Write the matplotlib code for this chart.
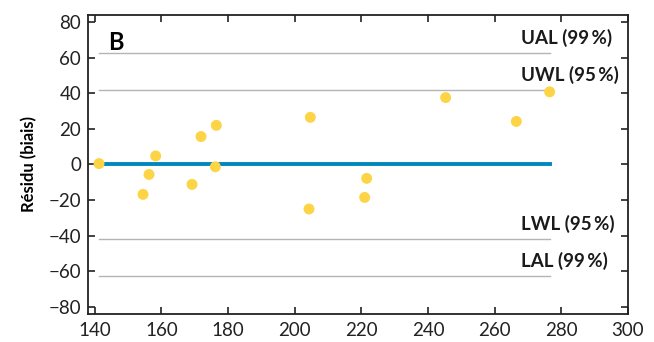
import matplotlib.pyplot as plt

plt.rcParams['font.family'] = ['Lato', 'DejaVu Sans']

# data
x_vals = [141.3, 154.5, 156.3, 158.3, 169.2, 171.9, 176.5, 176.2,
          204.7, 204.3, 221.6, 221.0, 245.3, 266.5, 276.5]
residus = [0.5, -16.8, -5.6, 4.8, -11.2, 15.7, 22.0, -1.3,
           26.5, -25.0, -7.8, -18.5, 37.6, 24.2, 40.8]

limit_names = ['UAL (99\u2009%)', 'UWL (95\u2009%)', 'LWL (95\u2009%)', 'LAL (99\u2009%)']
limit_values = [62.8, 42.0, -42.0, -62.8]

x_ticks = [140, 160, 180, 200, 220, 240, 260, 280, 300]
y_ticks = [-80, -60, -40, -20, 0, 20, 40, 60, 80]

fig = plt.figure(figsize=(6.54, 3.42), dpi=100)
ax = fig.add_axes([0.1346, 0.0819, 0.8256, 0.8743])

x0, x1 = min(x_vals), max(x_vals)
for name, val in zip(limit_names, limit_values):
    ax.plot([x0, x1], [val, val], color='#b4b4b4', lw=1.0, zorder=1)
    ax.text(267.8, val + 3.4, name, ha='left', va='bottom',
            fontsize=13.5, fontweight='bold', color='#1a1a1a')

ax.plot([x0, x1], [0, 0], color='#0087bd', lw=2.8, zorder=2)
ax.scatter(x_vals, residus, s=62, color='#fdd445', edgecolors='none', zorder=3)

ax.set_xlim(138, 300)
ax.set_ylim(-84, 84)
ax.set_xticks(x_ticks)
ax.set_yticks(y_ticks)
ax.set_yticklabels([str(t).replace('-', '\u2212') for t in y_ticks])
ax.tick_params(direction='in', top=True, right=True, length=5, width=1.2,
               labelsize=13.5, colors='#222222', pad=5)
ax.tick_params(axis='x', pad=6)
for sp in ax.spines.values():
    sp.set_linewidth(1.3)
    sp.set_color('#222222')

ax.set_ylabel('Résidu (biais)', fontsize=12, fontweight='bold', labelpad=8)
ax.text(0.037, 0.945, 'B', transform=ax.transAxes, fontsize=17,
        fontweight='bold', va='top', ha='left')

fig.savefig('out.png', dpi=100)
